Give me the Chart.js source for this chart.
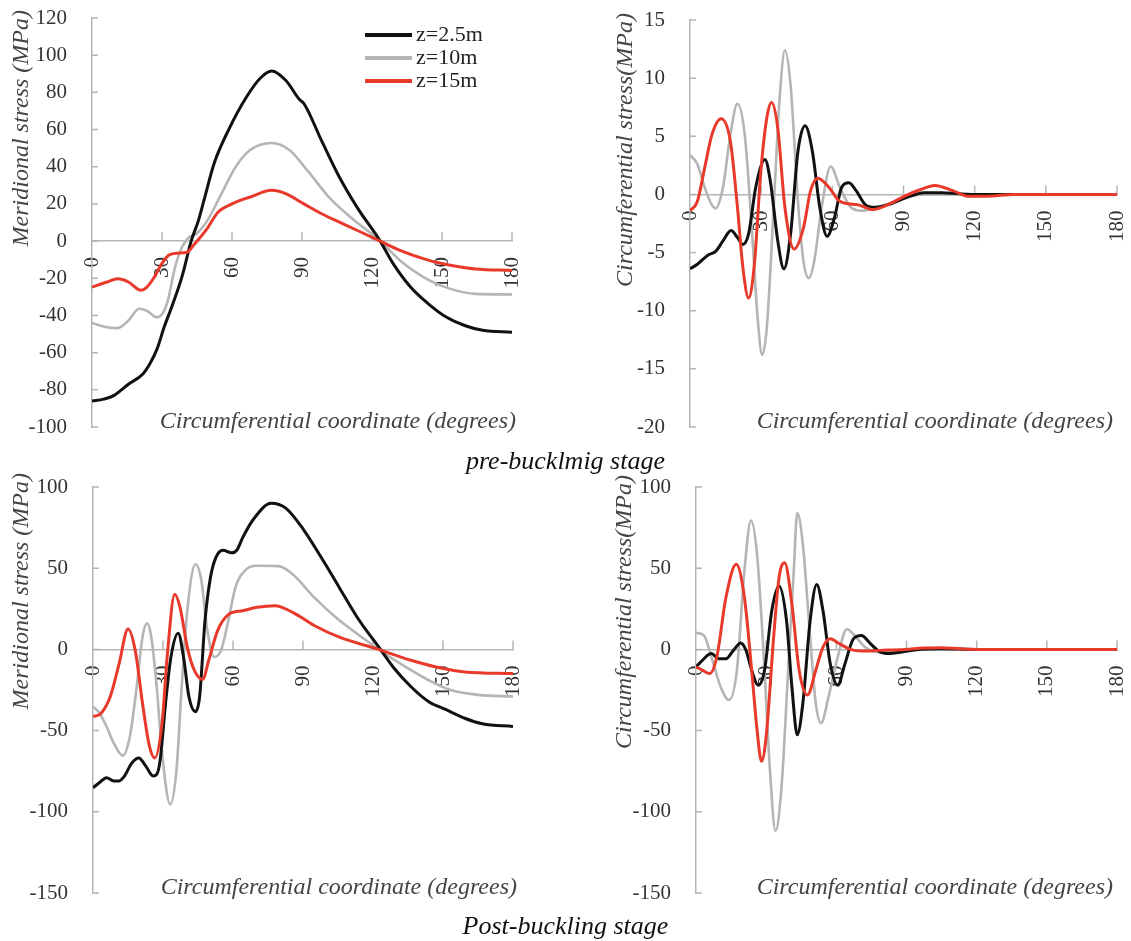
<!DOCTYPE html>
<html lang="en">
<head>
<meta charset="UTF-8" />
<title>Meridional and circumferential stress</title>
<script src="https://cdn.jsdelivr.net/npm/chart.js"></script>
<style>
    body { margin: 0; background: #fff; }
    #page { position: relative; width: 1131px; height: 941px; }
    canvas { position: absolute; }
    .caption {
        position: absolute;
        left: 0;
        width: 1131px;
        text-align: center;
        font-family: "Liberation Serif", serif;
        font-style: italic;
        font-size: 26px;
        color: #111;
    }
</style>
</head>
<body>
<div id="page">
    <canvas id="preMer" width="560" height="440" style="left:0;top:0"></canvas>
    <canvas id="preCir" width="571" height="440" style="left:560px;top:0"></canvas>
    <canvas id="postMer" width="560" height="471" style="left:0;top:470px"></canvas>
    <canvas id="postCir" width="571" height="471" style="left:560px;top:470px"></canvas>
    <div class="caption" style="top:446px">pre-bucklmig stage</div>
    <div class="caption" style="top:911px">Post-buckling stage</div>
</div>

<script>
// series labels
const seriesNames = ["z=2.5m", "z=10m", "z=15m"];
const xTicks = { min: 0, max: 180, step: 30 };

// pre-buckling, meridional stress [deg, MPa]
const preMerBlack = [[0,-86],[5,-85],[9.5,-83],[15.6,-77],[21.8,-71.5],[24.8,-66],[27.9,-58],[31,-46],[34,-36],[38.6,-19],[42.5,0],[45.6,11],[48,22],[52.4,42],[58.6,60],[66.2,77.5],[72.4,88],[77,91.5],[83,86.5],[89,76],[90.8,74],[98.4,54],[106,34.5],[113.7,18],[123.5,0],[129,-12],[136.7,-25],[144.4,-34],[152,-41],[159.7,-45.4],[167.4,-48],[180,-49]];
const preMerGray = [[0,-44],[6.4,-46.3],[11,-46.8],[15.6,-42.7],[20.2,-36.4],[23.3,-37.3],[27.9,-41],[30.2,-39],[32.5,-32],[35.6,-14],[38.6,-3.2],[41.7,2.2],[44.8,4],[49.4,11],[55.5,25.5],[61.6,40],[67.8,49],[77,52.8],[84.6,49],[92.3,38],[101.5,23.7],[110.7,13],[123.5,0],[132,-10.4],[144.4,-21],[153.6,-25.7],[164.3,-28.4],[180,-28.7]];
const preMerRed = [[0,-24.8],[6.4,-22],[11,-20.3],[15.6,-22],[21,-26.5],[23.3,-25],[26.4,-20],[30,-12],[33,-7.5],[36.5,-6.5],[40.8,-6],[43.7,-2],[49.5,7],[54,15.5],[60,20],[67.8,23.7],[77,27.3],[83,25.5],[90.8,20],[98.4,14.7],[107.6,9.3],[123.5,0],[132,-5],[144.4,-10.4],[153.6,-13],[164.3,-15],[180,-15.8]];

// pre-buckling, circumferential stress
const preCirBlack = [[0,-6.4],[3.1,-6],[7.7,-5.2],[10.8,-4.9],[13.9,-4],[17.3,-3.1],[20,-3.7],[22.3,-4.3],[24.7,-3.4],[27.7,0.6],[31.6,3],[33.9,1.1],[37,-4],[39.6,-6.4],[42.4,-3.4],[45.5,3.7],[48.5,5.9],[51.6,3.7],[54.7,-1.1],[57.8,-3.6],[60.9,-2],[63.9,0.6],[67,1],[70.1,0.3],[74,-0.9],[77.8,-1.1],[83.2,-0.9],[90.9,-0.3],[98.6,0.15],[106,0.15],[114,0.05],[121.7,0],[180,0]];
const preCirGray = [[0,3.4],[3.1,2.6],[6.2,0.6],[9.2,-0.9],[10.8,-1.2],[13.9,0.6],[17,5.1],[20,7.8],[23.1,5.1],[26.2,-3.4],[28.5,-10.6],[30.4,-13.8],[32.4,-11.4],[35.4,-0.6],[37.7,8],[40,12.4],[42.4,9.4],[45.5,-0.6],[47.8,-5.7],[50.1,-7.2],[52.4,-5.7],[55.5,-1.1],[59.3,2.4],[63.2,0.6],[67.8,-1.1],[72.4,-1.4],[78.6,-1.1],[86.3,-0.6],[92.4,-0.15],[100,0],[180,0]];
const preCirRed = [[0,-1.4],[3.1,-0.6],[6.2,2.3],[9.2,5.1],[13.1,6.5],[17,4.6],[20,-1.1],[22.3,-6.3],[24.7,-8.9],[27,-6.3],[30,2.3],[32.4,6.6],[34.4,7.9],[37,5.7],[40,-1.1],[43.9,-4.7],[47.8,-2.9],[50.8,0.3],[53.9,1.4],[58.6,0.6],[63.2,-0.6],[70.9,-0.9],[77,-1.3],[83.2,-0.9],[90.9,-0.1],[97,0.4],[103.2,0.77],[111,0.3],[117,-0.15],[124.8,-0.15],[137,0],[180,0]];

// post-buckling, meridional stress
const postMerBlack = [[0,-85.2],[2.8,-82],[5.8,-79],[8.9,-81],[11.2,-81],[13.5,-78],[16.6,-70],[19.6,-66.8],[22.7,-72],[25.8,-78],[27.3,-77],[28.8,-68],[31.1,-33],[33.4,-4.7],[36.5,10],[38.8,-4.7],[41.1,-29],[43.9,-38.3],[45.7,-29],[48,17.7],[50.3,44],[52.6,56.4],[55.7,61],[59.5,59.5],[61.8,61.5],[64.1,68.7],[68.7,80],[76.4,90],[82.6,87],[90.2,73.8],[97.9,56.4],[105.6,38],[113.2,19.8],[123.2,0],[128.6,-10.8],[136.3,-23],[143.9,-32.2],[151.6,-37.3],[159.3,-42.4],[166.9,-45.8],[180,-47.5]];
const postMerGray = [[0,-35.2],[2.8,-39.3],[5.8,-47.5],[8.9,-57.7],[12.7,-65.4],[15.8,-53.6],[18.9,-21],[21.2,7.5],[23.2,16],[25,7.5],[27.3,-23],[29.6,-63.8],[33.1,-95.4],[35.8,-74],[38,-23],[40.4,23.8],[43.9,52.4],[46.5,42],[48.8,13.7],[51.9,-4.7],[54.9,-0.6],[58,17.7],[61,38],[65.7,49.3],[70.3,51.5],[79.5,51.3],[85.6,46.3],[94.8,32],[104,19.8],[113.2,9.6],[122.4,0],[131.7,-8.8],[143.9,-19],[153.1,-25],[165.4,-28],[180,-29]];
const postMerRed = [[0,-41.4],[3.5,-39.3],[7.4,-29],[11.2,-8.8],[15,12.6],[18.1,-0.6],[21.2,-33],[24.2,-59.7],[26.5,-66.8],[29.6,-45.4],[31.9,-2.6],[35,34],[37.3,25.9],[40.4,1.4],[43.4,-12.8],[47,-18.5],[49.6,-6.7],[53.4,11.6],[58,21.4],[64.1,23.8],[70.3,25.9],[78,26.9],[85.6,22.8],[94.8,14.7],[105.6,7.5],[122.4,0],[136.3,-6.7],[147,-10.8],[159.3,-13.9],[180,-14.9]];

// post-buckling, circumferential stress
const postCirBlack = [[0,-10.8],[2.7,-6.7],[6.6,-2.6],[9.7,-5.7],[12.8,-5.7],[16,-0.6],[19.1,4],[21.4,-0.6],[23.8,-12.8],[26.6,-22],[29.3,-12.8],[32.4,23.8],[35.5,39],[38.7,17.7],[41,-23],[43.3,-52.6],[45.7,-33],[48.8,17.7],[51.6,40],[54.3,23.8],[57.4,-8.8],[60.6,-22],[63.7,-8.8],[67.3,6.5],[70.7,8.6],[74.6,3.5],[78.6,-1.6],[82.5,-2.6],[88,-1.6],[94.2,-0.2],[105,0.4],[120,0],[180,0]];
const postCirGray = [[0,10.2],[3.4,8.6],[6.6,-4.7],[10.5,-23],[14.1,-31.2],[17.5,-12.8],[20.7,48.3],[23.5,79.3],[26.1,58.5],[29.3,-12.8],[31.6,-74],[34,-111.7],[36.6,-84],[39.4,-12.8],[41.8,48.3],[43.3,84],[45.7,64.6],[48.8,7.5],[51.2,-33],[53.5,-45.4],[56.7,-29],[60.6,-4.7],[64.5,12.6],[68.4,7.5],[72.3,1.4],[77,-1.6],[84.8,-1.6],[91,0],[180,0]];
const postCirRed = [[0,-10.8],[2.7,-12.8],[5.8,-14.9],[8.9,-4.7],[12.8,32],[17.2,52.4],[20.7,32],[23.8,-12.8],[26.1,-49.5],[28,-68.9],[30,-53.6],[33.2,7.5],[35.5,44.2],[37.9,53.4],[41,27.9],[44.1,-12.8],[47.7,-28.1],[51.2,-12.8],[54.3,1.4],[57.4,6.5],[61.3,3.5],[66,0],[70.7,-1],[78.6,-0.6],[89.5,0],[97.3,0.8],[105,1],[113,0.4],[121,0],[180,0]];

const colors = ["#111111", "#b5b5b5", "#e8392b"];
const axisColor = "#b5b5b5";
const serif = "'Liberation Serif', 'Times New Roman', serif";
const xTitleText = "Circumferential coordinate (degrees)";

// inner tick marks, axis titles and the small legend
const decor = {
    id: "decor",
    beforeDatasetsDraw(chart) {
        const { ctx, chartArea, scales } = chart;
        const xs = scales.x, ys = scales.y;
        const y0 = ys.getPixelForValue(0);
        ctx.save();
        ctx.strokeStyle = axisColor;
        ctx.lineWidth = 1.5;
        ctx.beginPath();
        xs.ticks.forEach((t) => {
            if (t.value === 0) return;
            const px = xs.getPixelForValue(t.value);
            ctx.moveTo(px, y0);
            ctx.lineTo(px, y0 - 9);
        });
        ys.ticks.forEach((t) => {
            const py = ys.getPixelForValue(t.value);
            ctx.moveTo(chartArea.left, py);
            ctx.lineTo(chartArea.left + 6, py);
        });
        ctx.stroke();
        ctx.restore();
    },
    afterDraw(chart, args, opts) {
        const { ctx, chartArea } = chart;
        ctx.save();
        ctx.font = "italic 24px " + serif;
        ctx.fillStyle = "#444";
        ctx.textBaseline = "middle";

        ctx.textAlign = "right";
        ctx.fillText(xTitleText, chartArea.right + opts.titleDx, chartArea.bottom - 5);

        // rotated y title, top aligned
        ctx.save();
        ctx.translate(opts.yTitle.x, opts.yTitle.top);
        ctx.rotate(-Math.PI / 2);
        ctx.textAlign = "right";
        ctx.fillText(opts.yTitle.text, 0, 0);
        ctx.restore();

        if (opts.legend) {
            const lx = chartArea.left + opts.legend.dx;
            const ly = chartArea.top + opts.legend.dy;
            ctx.font = "22px " + serif;
            ctx.fillStyle = "#222";
            ctx.textAlign = "left";
            chart.data.datasets.forEach((ds, i) => {
                const yy = ly + i * 23;
                ctx.strokeStyle = ds.borderColor;
                ctx.lineWidth = 4;
                ctx.beginPath();
                ctx.moveTo(lx, yy);
                ctx.lineTo(lx + 47, yy);
                ctx.stroke();
                ctx.fillText(ds.label, lx + 51, yy);
            });
        }
        ctx.restore();
    },
};

function toPoints(pairs) {
    return pairs.map(([x, y]) => ({ x, y }));
}

function makeChart(id, series, yMin, yMax, yStep, yWidth, pad, extra) {
    return new Chart(document.getElementById(id), {
        type: "line",
        data: {
            datasets: series.map((s, i) => ({
                label: seriesNames[i],
                data: toPoints(s),
                borderColor: colors[i],
                borderWidth: i === 1 ? 2.6 : 3,
                pointRadius: 0,
                cubicInterpolationMode: "monotone",
                fill: false,
                order: [2, 3, 1][i],
            })),
        },
        options: {
            responsive: false,
            animation: false,
            layout: { padding: pad },
            plugins: {
                legend: { display: false },
                tooltip: { enabled: false },
                decor: extra,
            },
            scales: {
                x: {
                    type: "linear",
                    position: { y: 0 },
                    min: xTicks.min,
                    max: xTicks.max,
                    grid: { display: false },
                    border: { display: true, color: axisColor, width: 1.5 },
                    ticks: {
                        stepSize: xTicks.step,
                        minRotation: 90,
                        maxRotation: 90,
                        padding: 8,
                        color: "#333",
                        font: { family: serif, size: 21 },
                    },
                    afterFit: (s) => {
                        s.height = 0;
                        s.paddingLeft = 0;
                        s.paddingRight = 0;
                    },
                },
                y: {
                    min: yMin,
                    max: yMax,
                    grid: { display: false },
                    border: { display: true, color: axisColor, width: 1.5 },
                    ticks: {
                        stepSize: yStep,
                        padding: 17,
                        color: "#333",
                        font: { family: serif, size: 21 },
                    },
                    afterFit: (s) => {
                        s.width = yWidth;
                        s.paddingTop = 0;
                        s.paddingBottom = 0;
                    },
                },
            },
        },
        plugins: [decor],
    });
}

makeChart("preMer", [preMerBlack, preMerGray, preMerRed], -100, 120, 20,
    92, { top: 18, right: 48, bottom: 13, left: 0 },
    { titleDx: 4, yTitle: { text: "Meridional stress (MPa)", x: 22, top: 10 }, legend: { dx: 273, dy: 17 } });
makeChart("preCir", [preCirBlack, preCirGray, preCirRed], -20, 15, 5,
    130, { top: 20, right: 14, bottom: 13, left: 0 },
    { titleDx: -4, yTitle: { text: "Circumferential stress(MPa)", x: 66, top: 13 } });
makeChart("postMer", [postMerBlack, postMerGray, postMerRed], -150, 100, 50,
    93, { top: 17, right: 47, bottom: 48, left: 0 },
    { titleDx: 4, yTitle: { text: "Meridional stress (MPa)", x: 22, top: 3 } });
makeChart("postCir", [postCirBlack, postCirGray, postCirRed], -150, 100, 50,
    136, { top: 17, right: 14, bottom: 48, left: 0 },
    { titleDx: -4, yTitle: { text: "Circumferential stress(MPa)", x: 65, top: 5 } });
</script>
</body>
</html>
